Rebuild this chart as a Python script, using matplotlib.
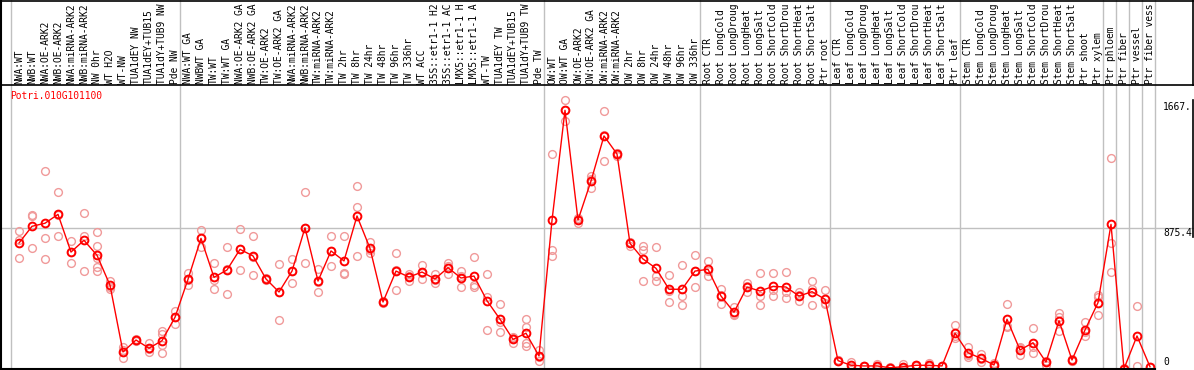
import matplotlib
matplotlib.use("Agg")
import matplotlib.pyplot as plt
from matplotlib.transforms import blended_transform_factory

gene_id = "Potri.010G101100"

labels = [
    "NWA:WT", "NWB:WT", "NWA:OE-ARK2", "NWB:OE-ARK2", "NWA:miRNA-ARK2", "NWB:miRNA-ARK2",
    "NW 0hr", "WT H2O", "WT-NW", "TUA1dEY NW", "TUA1dEY+TUB15", "TUA1dY+TUB9 NW", "Pde NW",
    "NWA:WT GA", "NWBWT GA", "TW:WT", "TW:WT GA", "NWA:OE-ARK2 GA", "NWB:OE-ARK2 GA",
    "TW:OE-ARK2", "TW:OE-ARK2 GA", "NWA:miRNA-ARK2", "NWB:miRNA-ARK2", "TW:miRNA-ARK2",
    "TW:miRNA-ARK2", "TW 2hr", "TW 8hr", "TW 24hr", "TW 48hr", "TW 96hr", "TW 336hr",
    "WT ACC", "35S::etr1-1 H2", "35S::etr1-1 AC", "LMX5::etr1-1 H", "LMX5::etr1-1 A",
    "WT-TW", "TUA1dEY TW", "TUA1dEY+TUB15", "TUA1dY+TUB9 TW", "Pde TW",
    "OW:WT", "OW:WT GA", "OW:OE-ARK2", "OW:OE-ARK2 GA", "OW:miRNA-ARK2", "OW:miRNA-ARK2",
    "OW 2hr", "OW 8hr", "OW 24hr", "OW 48hr", "OW 96hr", "OW 336hr",
    "Root CTR", "Root LongCold", "Root LongDroug", "Root LongHeat", "Root LongSalt",
    "Root ShortCold", "Root ShortDrou", "Root ShortHeat", "Root ShortSalt", "Ptr root",
    "Leaf CTR", "Leaf LongCold", "Leaf LongDroug", "Leaf LongHeat", "Leaf LongSalt",
    "Leaf ShortCold", "Leaf ShortDrou", "Leaf ShortHeat", "Leaf ShortSalt", "Ptr leaf",
    "Stem CTR", "Stem LongCold", "Stem LongDroug", "Stem LongHeat", "Stem LongSalt",
    "Stem ShortCold", "Stem ShortDrou", "Stem ShortHeat", "Stem ShortSalt", "Ptr shoot",
    "Ptr xylem", "Ptr phloem", "Ptr fiber", "Ptr vessel", "Ptr fiber vess",
]

means = [
    782, 886, 905, 960, 726, 799, 706, 520, 106, 180, 129, 176, 321,
    557, 811, 569, 615, 743, 702, 559, 478, 608, 877, 546, 733, 671, 950, 749, 416,
    608, 571, 602, 559, 629, 565, 577, 424, 309, 184, 222, 81,
    923, 1606, 925, 1167, 1447, 1335, 780, 683, 625, 495, 495, 608,
    619, 453, 352, 509, 484, 513, 509, 453, 480, 433,
    52, 23, 19, 19, 8, 14, 23, 23, 19, 222,
    101, 66, 25, 309, 118, 163, 43, 300, 56, 242, 412,
    898, 2, 205, 14,
]

replicates = [
    [857, 801, 687], [954, 950, 751], [1229, 811, 683], [1097, 826, 957], [793, 658, 727],
    [967, 826, 608], [849, 764, 691, 633, 608], [546, 511, 497], [135, 66, 117], [180, 175, 185],
    [160, 104, 123], [238, 149, 97, 220], [360, 278, 325],
    [598, 520, 553], [863, 756, 814], [656, 553, 495], [757, 466, 622], [869, 613, 747],
    [826, 584, 696], [559, 550, 568], [652, 304, 478], [683, 532, 609], [1099, 658, 874],
    [621, 478, 539], [826, 639, 734], [826, 590, 597], [1134, 1006, 702], [790, 739, 718],
    [416, 410, 422], [720, 490, 614], [590, 546, 577], [646, 561, 599], [588, 536, 553],
    [660, 590, 637], [608, 509, 578], [697, 522, 507], [590, 447, 242], [405, 230, 292],
    [192, 163, 197], [312, 263, 160, 145], [118, 52, 73],
    [1335, 739, 702], [1667, 1542, 1609], [939, 905, 931], [1198, 1126, 1177],
    [1600, 1291, 1450], [1343, 1324, 1338], [790, 766, 784], [766, 739, 546],
    [757, 576, 546], [584, 416, 485], [646, 453, 397], [708, 509, 607],
    [669, 577, 611], [497, 405, 457], [383, 340, 333], [532, 478, 517], [596, 453, 397],
    [596, 453, 490], [602, 478, 439], [478, 420, 461], [546, 397, 497], [489, 402, 408],
    [48, 55, 53], [45, 12, 12], [19, 17, 21], [31, 13, 13], [8, 6, 10], [29, 7, 6],
    [23, 20, 26], [35, 17, 17], [19, 17, 21], [271, 191, 204],
    [138, 76, 89], [93, 45, 60], [35, 20, 20], [404, 259, 264], [129, 87, 138],
    [255, 97, 137], [27, 50, 52], [346, 234, 320], [64, 52, 52], [290, 205, 231],
    [459, 333, 444],
    [1308, 780, 600], [0, 4], [391, 19], [14, 14],
]

group_starts = [0, 13, 41, 53, 63, 73, 84, 85, 86, 87]
y_ticks = ["1667.", "875.4", "0"]
y_mid = 875.4
y_top = 1750.8

# ---- layout (pixels of a 1194x370 image) ----
W, H = 1194, 370
x0_px, step_px = 19, 13
y0_px, ytop_px = 369, 87
header_bottom = 85
FS = 6.9
MONO = "DejaVu Sans Mono"

fig = plt.figure(figsize=(W / 100, H / 100), dpi=100)
# data axes (full figure, mapped so that index i -> pixel 19+13*i)
ax = fig.add_axes([0, 0, 1, 1])
ax.patch.set_alpha(0)
ax.axis("off")
ax.set_xlim(-x0_px / step_px, (W - x0_px) / step_px)
k = y_top / (y0_px - ytop_px)
ax.set_ylim(-(H - y0_px) * k, y0_px * k)
# pixel overlay axes on top (frames and texts)
axp = fig.add_axes([0, 0, 1, 1])
axp.patch.set_alpha(0)
axp.set_xlim(0, W)
axp.set_ylim(H, 0)
axp.axis("off")

n = len(labels)
xs = list(range(n))

grid_c = "#c0c0c0"
ax.axhline(y_mid, color=grid_c, lw=1, zorder=1)
for s in group_starts + [n]:
    ax.axvline(s - 8 / step_px, color=grid_c, lw=1, zorder=1)

# header box and plot frame (pixel coords)
axp.plot([0.5, W - 0.5], [header_bottom, header_bottom], color="black", lw=1.2, zorder=5)
axp.plot([0.5, W - 0.5], [0.5, 0.5], color="black", lw=1.2, zorder=5)
axp.plot([0.6, 0.6], [0, y0_px], color="black", lw=1.5, zorder=5)
axp.plot([W - 0.7, W - 0.7], [0, header_bottom], color="black", lw=1.2, zorder=5)
axp.plot([W - 0.7, W - 0.7], [100, 237], color="black", lw=1.2, zorder=5)
axp.plot([0, 1155], [y0_px + 0.3, y0_px + 0.3], color="black", lw=1.5, zorder=5)

# header labels
trans = blended_transform_factory(ax.transData, axp.transData)
for i, lab in enumerate(labels):
    axp.text(i, 83.5, lab, transform=trans, rotation=90, ha="center", va="bottom",
             fontsize=FS, family=MONO, color="black", zorder=6)

# gene id
axp.text(10, 96, gene_id, color="red", fontsize=FS, family=MONO,
         ha="left", va="center", zorder=6)

# right-side value labels
for txt, ypx in zip(y_ticks, [107, 232.5, 362]):
    axp.text(1163, ypx, txt, fontsize=FS, family=MONO,
             ha="left", va="center", color="black", zorder=6)

# replicates
rx, ry = [], []
for i, reps in enumerate(replicates):
    for v in reps:
        rx.append(i)
        ry.append(v)
ax.plot(rx, ry, linestyle="none", marker="o", markersize=5.6, mfc="none",
        mec="#f09a9a", mew=1.0, zorder=3, clip_on=False)

# mean line and markers
ax.plot(xs, means, color="red", lw=1.0, zorder=4, clip_on=False)
ax.plot(xs, means, linestyle="none", marker="o", markersize=5.6, mfc="none",
        mec="red", mew=1.4, zorder=5, clip_on=False)

fig.savefig("out.png", dpi=100)
